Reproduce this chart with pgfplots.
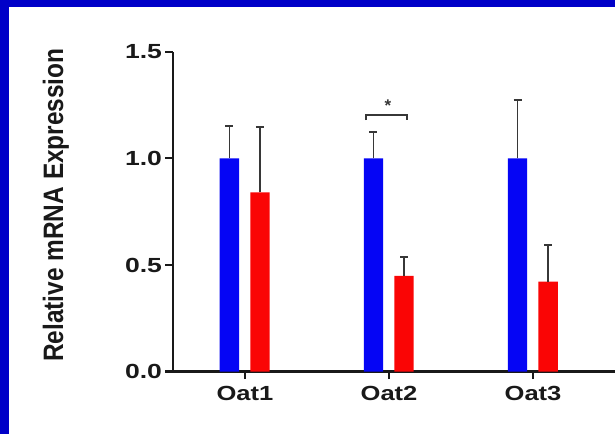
\documentclass[border=0pt]{standalone}
\usepackage{fontspec}
\setmainfont{Liberation Sans}
\usepackage{graphicx}
\usepackage{pgfplots}
\pgfplotsset{compat=1.18}
\definecolor{frameblue}{RGB}{0,0,200}
\definecolor{barblue}{RGB}{5,5,245}
\definecolor{barred}{RGB}{250,5,5}
\definecolor{errgray}{RGB}{55,55,55}
\definecolor{axisblack}{RGB}{25,25,25}
\begin{document}
\begin{tikzpicture}
\fill[white] (0bp,0bp) rectangle (615bp,434bp);
\useasboundingbox (0bp,0bp) rectangle (615bp,434bp);
\fill[frameblue] (0bp,0bp) rectangle (9bp,434bp);
\fill[frameblue] (0bp,427bp) rectangle (615bp,434bp);
\begin{axis}[
  at={(173bp,62.5bp)}, anchor=south west,
  scale only axis, width=442bp, height=319.5bp,
  xmin=-0.5, xmax=2.569, ymin=0, ymax=1.5,
  clip=false,
  axis x line*=bottom, axis y line*=left,
  axis line style={line width=2.2bp, axisblack},
  tick align=outside, major tick length=7.5bp,
  tick style={line width=2bp, axisblack},
  xtick={0,1,2},
  xticklabels={\scalebox{1.25}[1]{Oat1},\scalebox{1.25}[1]{Oat2},\scalebox{1.25}[1]{Oat3}},
  ytick={0,0.5,1,1.5},
  yticklabels={\scalebox{1.3}[1]{0.0},\scalebox{1.3}[1]{0.5},\scalebox{1.3}[1]{1.0},\scalebox{1.3}[1]{1.5}},
  xticklabel style={font=\bfseries\fontsize{20.5}{24}\selectfont, text=axisblack, yshift=-4bp},
  yticklabel style={font=\bfseries\fontsize{20.5}{24}\selectfont, text=axisblack},
  ylabel={\scalebox{1}[1.15]{Relative mRNA Expression}},
  ylabel style={font=\bfseries\fontsize{24.5}{28}\selectfont, text=axisblack},
  every axis y label/.append style={at={(axis description cs:-0.265,0.521)}, anchor=center},
]
\addplot[ybar, bar shift=0, bar width=0.135, fill=barblue, draw=none,
  error bars/.cd, y dir=plus, y explicit,
  error bar style={line width=1.8bp, errgray},
  error mark options={rotate=90, mark size=4bp, line width=1.8bp, errgray}]
  coordinates {(-0.108,1) +- (0,0.151) (0.892,1) +- (0,0.123) (1.892,1) +- (0,0.273)};
\addplot[ybar, bar shift=0, bar width=0.135, fill=barred, draw=none,
  error bars/.cd, y dir=plus, y explicit,
  error bar style={line width=1.8bp, errgray},
  error mark options={rotate=90, mark size=4bp, line width=1.8bp, errgray}]
  coordinates {(0.104,0.841) +- (0,0.307) (1.104,0.449) +- (0,0.089) (2.104,0.422) +- (0,0.173)};
\draw[line width=1.8bp, errgray] (axis cs:0.84,1.18) -- (axis cs:0.84,1.206) -- (axis cs:1.125,1.206) -- (axis cs:1.125,1.18);
\node[font=\bfseries\fontsize{17}{20}\selectfont, text=errgray] at (axis cs:0.993,1.25) {*};
\end{axis}
\end{tikzpicture}
\end{document}
